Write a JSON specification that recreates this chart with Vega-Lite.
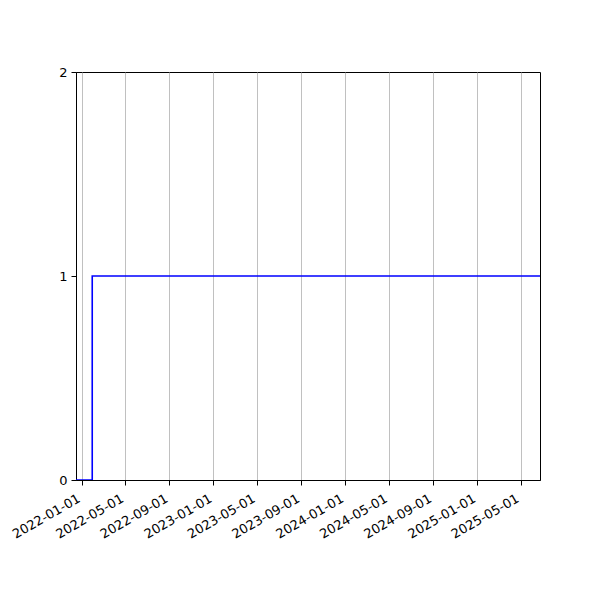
{
  "$schema": "https://vega.github.io/schema/vega-lite/v6.json",
  "width": 464,
  "height": 408,
  "autosize": {"type": "none"},
  "padding": {"left": 76, "top": 72, "right": 60, "bottom": 120},
  "background": "white",
  "config": {
    "view": {"stroke": "black", "strokeWidth": 1},
    "font": "DejaVu Sans"
  },
  "data": {
    "values": [
      {"date": "2021-12-16", "value": 0},
      {"date": "2022-01-30", "value": 1},
      {"date": "2025-06-24", "value": 1}
    ]
  },
  "mark": {"type": "line", "interpolate": "step-after", "color": "#0000ff", "strokeWidth": 1.6, "clip": true},
  "encoding": {
    "x": {
      "field": "date",
      "type": "temporal",
      "title": null,
      "scale": {
        "type": "utc",
        "domain": [
          {"year": 2021, "month": 12, "date": 16, "utc": true},
          {"year": 2025, "month": 6, "date": 24, "utc": true}
        ]
      },
      "axis": {
        "values": [
          {"year": 2022, "month": 1, "date": 1, "utc": true},
          {"year": 2022, "month": 5, "date": 1, "utc": true},
          {"year": 2022, "month": 9, "date": 1, "utc": true},
          {"year": 2023, "month": 1, "date": 1, "utc": true},
          {"year": 2023, "month": 5, "date": 1, "utc": true},
          {"year": 2023, "month": 9, "date": 1, "utc": true},
          {"year": 2024, "month": 1, "date": 1, "utc": true},
          {"year": 2024, "month": 5, "date": 1, "utc": true},
          {"year": 2024, "month": 9, "date": 1, "utc": true},
          {"year": 2025, "month": 1, "date": 1, "utc": true},
          {"year": 2025, "month": 5, "date": 1, "utc": true}
        ],
        "labelExpr": "utcFormat(datum.value, '%Y-%m-%d')",
        "labelAngle": -30,
        "labelAlign": "right",
        "labelBaseline": "top",
        "labelFontSize": 13,
        "labelColor": "black",
        "labelPadding": 7,
        "labelOffset": -6,
        "labelOverlap": false,
        "labelFlush": false,
        "tickColor": "black",
        "tickSize": 5,
        "domainColor": "black",
        "grid": true,
        "gridColor": "#b0b0b0",
        "gridWidth": 0.8
      }
    },
    "y": {
      "field": "value",
      "type": "quantitative",
      "title": null,
      "scale": {"domain": [0, 2], "nice": false},
      "axis": {
        "values": [0, 1, 2],
        "labelExpr": "format(datum.value, 'd')",
        "labelFontSize": 13,
        "labelColor": "black",
        "labelPadding": 4,
        "labelOverlap": false,
        "labelFlush": false,
        "tickColor": "black",
        "tickSize": 5,
        "domainColor": "black",
        "grid": false
      }
    }
  }
}
